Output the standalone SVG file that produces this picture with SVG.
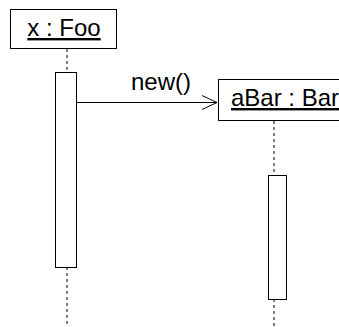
<svg xmlns="http://www.w3.org/2000/svg" width="339" height="327" viewBox="0 0 339 327">
<style>
.box{fill:#fff;stroke:#000;stroke-width:1}
.act{fill:#fff;stroke:#000;stroke-width:1}
.life{stroke:#000;stroke-width:1;stroke-dasharray:3,3;fill:none}
.lbl{font-family:"Liberation Sans",Arial,sans-serif;font-size:24px;fill:#000}
.msg{stroke:#000;stroke-width:1;fill:none}
</style>
<defs>
<marker id="open" markerWidth="16" markerHeight="16" refX="15" refY="8" orient="auto" markerUnits="userSpaceOnUse">
<path d="M0,1 L15,8 L0,15" fill="none" stroke="#000" stroke-width="1"/>
</marker>
</defs>
<g id="connectors">
<line class="life" x1="67" y1="49" x2="67" y2="72"/>
<line class="life" x1="67" y1="267" x2="67" y2="327"/>
<line class="life" x1="274" y1="121" x2="274" y2="175"/>
<line class="life" x1="274" y1="299" x2="274" y2="327"/>
<line class="msg" x1="77" y1="102.5" x2="217" y2="102.5" marker-end="url(#open)"/>
<text class="lbl" x="131" y="90">new()</text>
</g>
<g id="foo">
<rect class="box" x="10.5" y="9.5" width="106" height="39"/>
<text class="lbl" x="64" y="36" text-anchor="middle" text-decoration="underline">x : Foo</text>
</g>
<g id="fooActivation">
<rect class="act" x="55.5" y="72.5" width="21" height="195"/>
</g>
<g id="bar">
<rect class="box" x="218.5" y="79.5" width="130" height="41"/>
<text class="lbl" x="231" y="106" text-decoration="underline">aBar : Bar</text>
</g>
<g id="barActivation">
<rect class="act" x="268.5" y="175.5" width="18" height="124"/>
</g>
</svg>
